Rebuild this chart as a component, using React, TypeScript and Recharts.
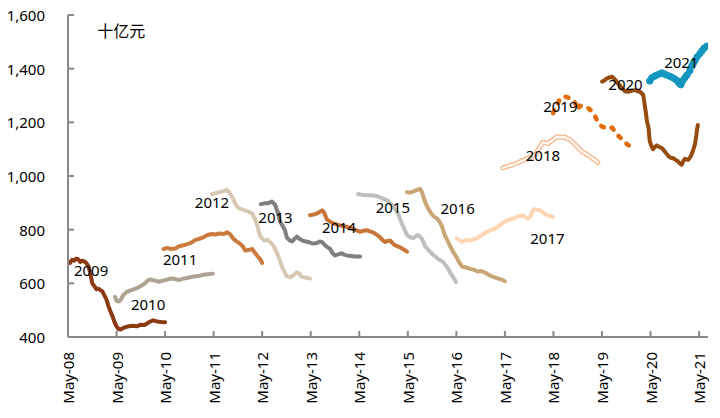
import { LineChart, Line, XAxis, YAxis, ReferenceDot } from 'recharts';

// x = months since May-08, y = 十亿元
const s2009 = [[0,680],[0.5,676],[1,688],[1.5,684],[2,692],[2.5,690],[3,680],[3.5,684],[4,682],[4.5,676],[5,665],[5.5,640],[6,600],[6.5,590],[7,578],[7.5,580],[8,575],[8.5,570],[9,555],[9.5,540],[10,515],[10.5,495],[11,478],[11.5,455],[12,440],[12.5,430],[13,428],[14,436],[15,440],[16,442],[17,440],[18,446],[19,445],[20,455],[21,462],[22,458],[23,456],[24,455]];
const s2010 = [[11.6,550],[12,535],[12.5,532],[13,538],[13.6,555],[14.5,568],[15.5,574],[17,582],[18,590],[19,600],[19.8,612],[20.5,614],[21.5,610],[22.5,606],[23.5,610],[24.5,614],[25.5,618],[26.5,616],[27.5,612],[28.5,618],[29.5,620],[30.5,624],[31.5,626],[32.5,628],[33.5,632],[34.5,634],[35.8,636]];
const s2011 = [[23.6,728],[24.5,732],[25.5,728],[26.5,730],[27.5,738],[28.5,742],[29.5,746],[30.5,752],[31.5,762],[32.5,766],[33.5,772],[34.5,780],[35.5,784],[36.5,782],[37.5,786],[38.5,784],[39.3,790],[40,784],[40.8,768],[41.5,758],[42.5,748],[43.2,738],[43.8,722],[44.5,724],[45.5,728],[46.3,712],[47,698],[47.5,690],[48,676]];
const s2012 = [[35.6,932],[36.5,936],[37.5,940],[38.5,944],[39.3,948],[40,936],[40.8,916],[41.5,892],[42.2,880],[43.3,874],[44.5,868],[45.5,860],[46.2,840],[46.8,815],[47.5,775],[48.5,760],[49.4,762],[50.2,750],[50.8,740],[51.5,718],[52,700],[52.5,680],[53,658],[53.6,640],[54.1,626],[55,622],[56,634],[56.6,642],[57.2,636],[57.8,624],[58.6,622],[59.8,618]];
const s2013 = [[47.7,895],[48.5,898],[49.4,898],[50.4,905],[51.2,892],[51.9,862],[52.4,832],[53,815],[53.6,800],[54.1,770],[54.8,760],[55.4,756],[56,766],[56.6,774],[57.2,766],[57.8,760],[58.8,756],[59.8,752],[60.6,748],[61.5,750],[62.2,756],[62.8,754],[63.5,742],[64.2,734],[64.8,728],[65.4,712],[66,704],[66.8,708],[67.7,712],[68.4,706],[69,704],[70,702],[71,700],[72.2,700]];
const s2014 = [[59.8,854],[60.6,856],[61.5,860],[62.2,866],[62.8,872],[63.3,864],[64,838],[64.8,830],[65.5,824],[66.4,820],[67.2,816],[68,814],[69,810],[69.8,806],[70.4,804],[71.2,798],[72.2,792],[73,796],[73.9,798],[74.6,794],[75.4,790],[76.2,782],[77.1,772],[77.8,760],[78.4,754],[79,758],[79.6,760],[80.2,750],[80.8,742],[81.5,738],[82.1,734],[83,726],[83.8,718]];
const s2015 = [[71.7,933],[72.5,930],[73.9,928],[75,928],[76.4,925],[77.5,918],[78.8,910],[79.8,896],[80.8,878],[81.6,860],[82.1,840],[82.6,820],[83.2,800],[83.8,780],[84.5,772],[85.3,768],[86,776],[86.5,780],[87,774],[87.5,766],[88.2,740],[89,726],[89.5,718],[90.2,706],[91,698],[91.4,692],[92,686],[92.7,680],[93.3,668],[93.9,656],[94.4,642],[94.9,630],[95.6,614],[95.9,604]];
const s2016 = [[83.8,940],[84.5,938],[85.3,942],[86.3,948],[87,952],[87.5,940],[88,915],[88.5,895],[89,880],[89.8,860],[90.5,848],[91.2,842],[91.8,830],[92.4,814],[92.8,795],[93.2,778],[93.8,760],[94.4,740],[95.2,718],[96.1,695],[96.8,676],[97.4,662],[98.2,660],[99.4,654],[100.4,650],[101.3,644],[102.2,646],[103.1,640],[104,632],[104.8,626],[105.5,622],[106.3,618],[107.2,614],[108,608]];
const s2017 = [[96.1,768],[96.8,760],[97.4,754],[98,758],[98.6,762],[99.4,760],[100.1,764],[101,768],[101.8,774],[102.7,784],[103.6,792],[104.3,796],[105,800],[105.9,808],[106.8,818],[107.6,826],[108.5,834],[109.3,838],[110,842],[111,848],[111.7,852],[112.5,852],[113.2,846],[113.7,842],[114.3,850],[114.7,866],[115.2,876],[116,874],[116.7,872],[117.3,866],[117.9,858],[118.5,854],[119.1,852],[119.9,846]];
const s2018 = [[107.5,1030],[108.3,1034],[109.2,1038],[110,1042],[111,1048],[111.8,1054],[112.5,1058],[113.3,1064],[114.2,1070],[115,1076],[115.6,1082],[116.2,1098],[116.7,1110],[117.4,1126],[118,1124],[118.6,1120],[119.2,1128],[119.9,1134],[120.4,1142],[120.9,1146],[121.5,1144],[122.1,1144],[122.7,1146],[123.3,1140],[124,1136],[124.6,1128],[125.2,1120],[125.8,1110],[126.4,1100],[127,1092],[127.8,1084],[128.5,1078],[129.2,1070],[129.8,1064],[130.4,1058],[131,1050]];
const s2019 = [[119.9,1234],[120.3,1250],[120.9,1266],[121.5,1284],[122.1,1292],[122.7,1296],[123.3,1294],[124,1290],[124.6,1284],[125.3,1274],[125.7,1258],[126,1246],[126.5,1262],[127.3,1260],[128.3,1256],[129,1248],[129.5,1240],[130.3,1222],[131,1200],[132,1184],[133.2,1178],[134.5,1180],[135.2,1166],[136,1150],[136.6,1142],[137.2,1134],[138.2,1118],[139.2,1108],[140.1,1102]];
const s2020 = [[132,1352],[132.6,1356],[133.2,1364],[134,1368],[134.5,1370],[135.2,1360],[135.8,1346],[136.4,1338],[137,1326],[137.7,1316],[138.3,1314],[138.9,1316],[139.5,1318],[140.1,1320],[140.8,1316],[141.4,1314],[142.2,1302],[142.5,1270],[142.8,1240],[143.1,1205],[143.5,1180],[143.8,1130],[144.2,1112],[144.6,1100],[145.1,1108],[145.5,1114],[146.2,1108],[146.8,1104],[147.6,1090],[148.4,1074],[149,1068],[149.6,1066],[150.2,1060],[150.8,1054],[151.3,1046],[151.7,1042],[152.1,1056],[152.5,1064],[153.3,1060],[153.8,1070],[154.2,1082],[154.6,1100],[155,1120],[155.3,1150],[155.5,1175],[155.7,1190]];
const s2021 = [[143.8,1354],[144.3,1366],[145,1372],[145.5,1376],[146.2,1380],[146.8,1384],[147.4,1380],[148,1376],[148.7,1372],[149.3,1368],[150,1362],[150.5,1356],[151,1346],[151.5,1340],[152,1356],[152.5,1366],[153,1376],[153.7,1392],[154.2,1410],[154.6,1420],[155,1430],[155.5,1444],[156.2,1456],[156.7,1466],[157.2,1476],[157.9,1484]];

const xTicks = [0, 12, 24, 36, 48, 60, 72, 84, 96, 108, 120, 132, 144, 156];
const xLabels = ['May-08', 'May-09', 'May-10', 'May-11', 'May-12', 'May-13', 'May-14', 'May-15', 'May-16', 'May-17', 'May-18', 'May-19', 'May-20', 'May-21'];
const yTicks = [400, 600, 800, 1000, 1200, 1400, 1600];

// year label anchors [month, value]
const yearLabels = [
  ['2009', 5.7, 646], ['2010', 19.8, 519], ['2011', 27.7, 687], ['2012', 35.6, 899],
  ['2013', 51.3, 843], ['2014', 67, 808], ['2015', 80.3, 882], ['2016', 96.3, 877],
  ['2017', 118.5, 765], ['2018', 117.4, 1074], ['2019', 121.7, 1260], ['2020', 137.8, 1342],
  ['2021', 151.6, 1424],
];

const FONT = '"Noto Sans", "Noto Sans CJK SC", sans-serif';
const AXIS = '#898989';

const toPts = (arr: number[][]) => arr.map(([m, v]) => ({ m, v }));

function XTick({ x, y, payload }: any) {
  const i = xTicks.indexOf(payload.value);
  return (
    <g>
      <line x1={x} y1={y} x2={x} y2={y - 6} stroke={AXIS} strokeWidth={2} />
      <text
        x={x}
        y={y + 15}
        transform={`rotate(-90 ${x} ${y + 15})`}
        textAnchor="end"
        dominantBaseline="central"
        fontSize={15}
        fontFamily={FONT}
        fill="#000"
      >
        {xLabels[i]}
      </text>
    </g>
  );
}

function YTick({ x, y, payload }: any) {
  return (
    <g>
      <line x1={x} y1={y} x2={x + 6} y2={y} stroke={AXIS} strokeWidth={2} />
      <text x={x - 23} y={y} textAnchor="end" dominantBaseline="central" fontSize={15} fontFamily={FONT} fill="#000">
        {payload.value.toLocaleString('en-US')}
      </text>
    </g>
  );
}

const plain = [
  { data: s2009, color: '#8B3A12' },
  { data: s2010, color: '#ADA393' },
  { data: s2011, color: '#CD7B3D' },
  { data: s2012, color: '#D6C8B4' },
  { data: s2013, color: '#7F7F7F' },
  { data: s2014, color: '#C8753A' },
  { data: s2015, color: '#BFBFBF' },
  { data: s2016, color: '#C9A676' },
  { data: s2017, color: '#FDD5B3' },
];

export default function App() {
  return (
    <div style={{ position: 'absolute', left: 0, top: 0, width: 720, height: 418, background: '#fff' }}>
      <LineChart width={720} height={418} margin={{ top: 15, right: 12, left: 0, bottom: 0 }}>
        <XAxis
          type="number"
          dataKey="m"
          domain={[0, 158.2]}
          ticks={xTicks}
          allowDataOverflow
          height={81}
          tickSize={0}
          tickMargin={0}
          tickLine={false}
          axisLine={{ stroke: AXIS, strokeWidth: 2 }}
          tick={<XTick />}
          interval={0}
        />
        <YAxis
          type="number"
          domain={[400, 1600]}
          ticks={yTicks}
          width={68}
          tickSize={0}
          tickMargin={0}
          tickLine={false}
          axisLine={{ stroke: AXIS, strokeWidth: 2 }}
          tick={<YTick />}
          interval={0}
        />
        {plain.map((s, i) => (
          <Line
            key={i}
            data={toPts(s.data)}
            dataKey="v"
            type="linear"
            stroke={s.color}
            strokeWidth={4}
            strokeLinejoin="round"
            strokeLinecap="round"
            dot={false}
            isAnimationActive={false}
          />
        ))}
        <Line data={toPts(s2018)} dataKey="v" stroke="#F7BB8E" strokeWidth={5} strokeLinejoin="round" strokeLinecap="round" dot={false} isAnimationActive={false} />
        <Line data={toPts(s2018)} dataKey="v" stroke="#ffffff" strokeWidth={2} strokeLinejoin="round" strokeLinecap="round" dot={false} isAnimationActive={false} />
        <Line
          data={toPts(s2019)}
          dataKey="v"
          stroke="#E26B0A"
          strokeWidth={4.5}
          strokeDasharray="3 8"
          strokeLinecap="round"
          dot={false}
          isAnimationActive={false}
        />
        <Line data={toPts(s2020)} dataKey="v" stroke="#964B0F" strokeWidth={4} strokeLinejoin="round" strokeLinecap="round" dot={false} isAnimationActive={false} />
        <Line
          data={toPts(s2021)}
          dataKey="v"
          stroke="#1497BF"
          strokeWidth={5}
          strokeLinejoin="round"
          strokeLinecap="round"
          dot={{ r: 3.2, fill: '#1497BF', stroke: '#1497BF', strokeWidth: 1 }}
          isAnimationActive={false}
        />
        {yearLabels.map(([t, m, v]) => (
          <ReferenceDot
            key={t as string}
            x={m as number}
            y={v as number}
            r={0}
            stroke="none"
            label={{ value: t, position: 'center', fill: '#000', fontSize: 15, fontFamily: FONT }}
          />
        ))}
        <ReferenceDot
          x={7.2}
          y={1540}
          r={0}
          stroke="none"
          label={{ value: '十亿元', position: 'right', offset: 0, fill: '#000', fontSize: 16, fontFamily: '"Noto Sans CJK SC", sans-serif' }}
        />
      </LineChart>
    </div>
  );
}
